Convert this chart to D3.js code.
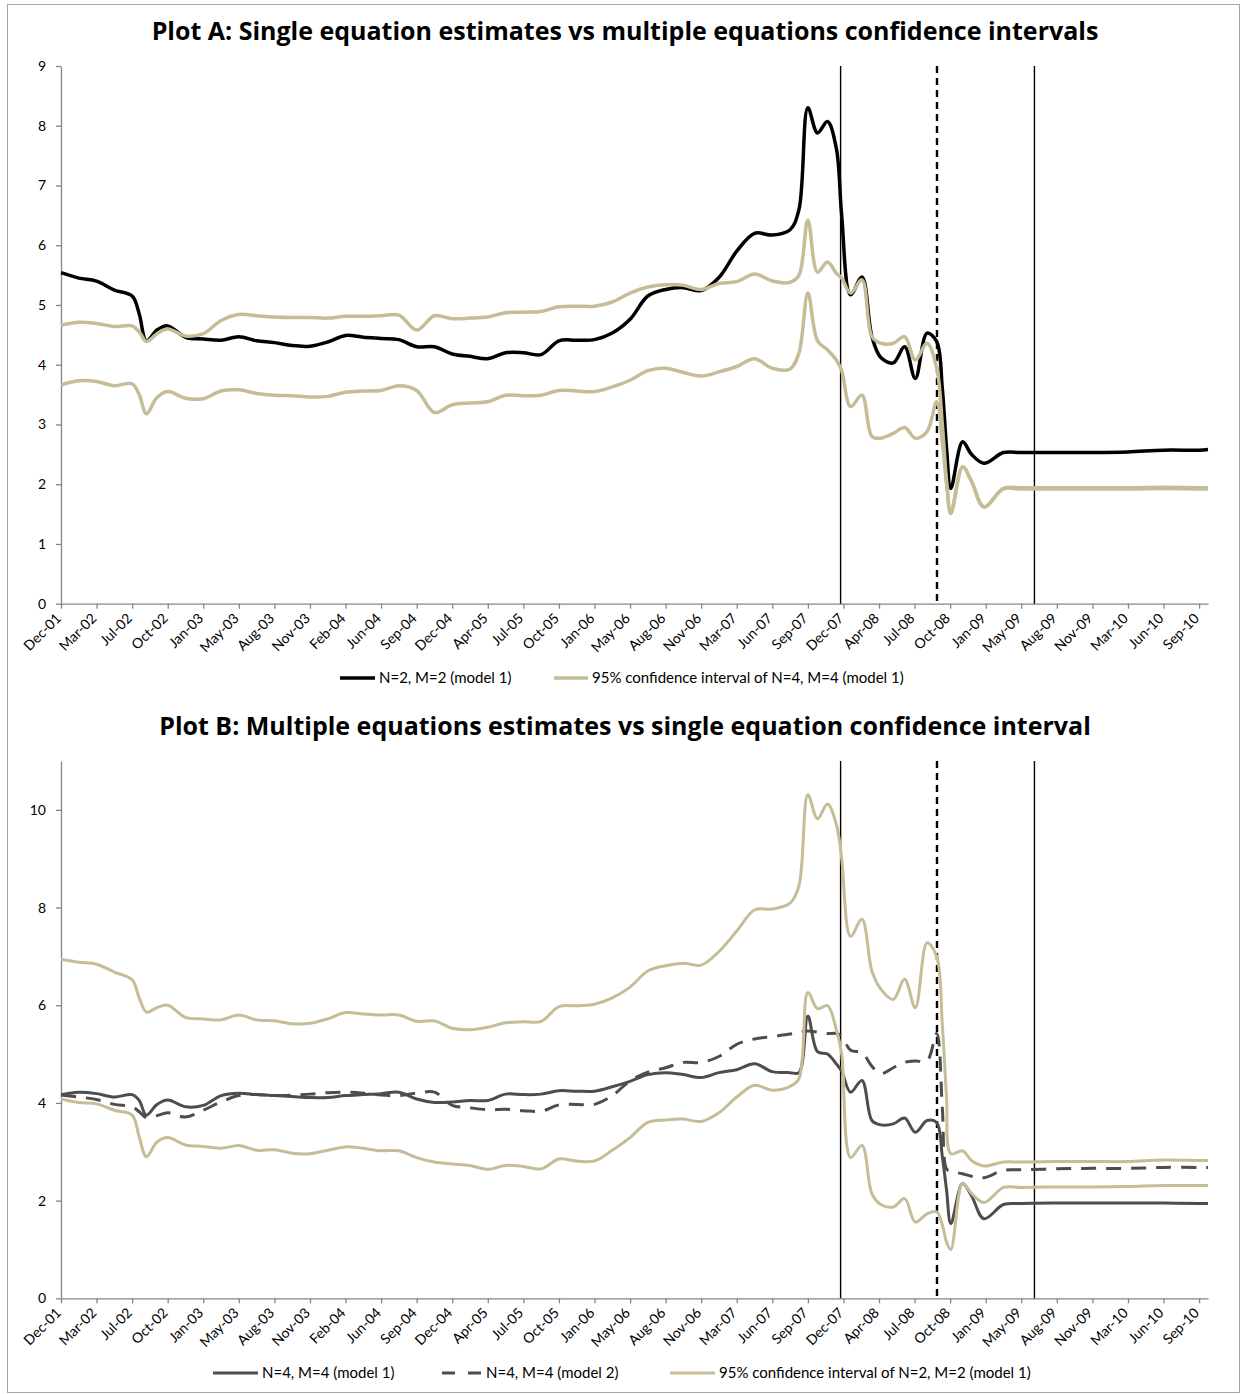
<!DOCTYPE html>
<html>
<head>
<meta charset="utf-8">
<script src="https://cdn.jsdelivr.net/npm/d3@7/dist/d3.min.js"></script>
<style>
    body { margin: 0; background: #fff; }
    text { font-family: Lato, "Open Sans", sans-serif; fill: #000; }
</style>
</head>
<body>
<svg id="chart" width="1241" height="1394"></svg>
<script>
// category labels on the x axis (one every tick)
const tickLabels = ["Dec-01","Mar-02","Jul-02","Oct-02","Jan-03","May-03","Aug-03","Nov-03","Feb-04","Jun-04",
    "Sep-04","Dec-04","Apr-05","Jul-05","Oct-05","Jan-06","May-06","Aug-06","Nov-06","Mar-07","Jun-07","Sep-07",
    "Dec-07","Apr-08","Jul-08","Oct-08","Jan-09","May-09","Aug-09","Nov-09","Mar-10","Jun-10","Sep-10"];

// observation points, in tick units (0 = Dec-01, 32 = Sep-10)
const periods = [0,0.5,1,1.5,2,2.2,2.4,2.7,3,3.5,4,4.5,5,5.5,6,6.5,7,7.5,8,8.5,9,9.5,10,10.5,11,11.5,12,12.5,13,13.5,
    14,14.5,15,15.5,16,16.5,17,17.5,18,18.5,19,19.5,20,20.5,
    20.75,21,21.27,21.55,21.8,21.95,22.2,22.52,22.8,23.05,23.4,23.72,24.02,24.35,24.62,24.78,24.9,25.02,25.35,25.6,25.95,26.5,
    27,28,29,30,31,32,32.25];

// Plot A
const estA = [5.54,5.45,5.40,5.25,5.15,4.85,4.40,4.58,4.65,4.46,4.43,4.41,4.47,4.40,4.37,4.32,4.31,4.38,4.49,4.46,
    4.44,4.42,4.30,4.30,4.18,4.14,4.10,4.20,4.20,4.17,4.40,4.41,4.42,4.53,4.76,5.15,5.26,5.29,5.24,5.46,5.90,6.20,6.17,6.26,
    6.60,8.30,7.88,8.07,7.62,6.50,5.17,5.47,4.47,4.12,4.03,4.30,3.77,4.53,4.39,3.60,2.60,1.93,2.71,2.50,2.35,2.53,
    2.53,2.53,2.53,2.54,2.57,2.57,2.58];
const ciA_hi = [4.66,4.71,4.69,4.64,4.65,4.55,4.39,4.52,4.60,4.48,4.52,4.74,4.84,4.82,4.80,4.79,4.79,4.78,4.81,4.81,
    4.82,4.83,4.58,4.82,4.77,4.78,4.80,4.87,4.88,4.89,4.97,4.98,4.98,5.05,5.20,5.30,5.34,5.33,5.26,5.36,5.39,5.52,5.40,5.38,
    5.50,6.42,5.55,5.72,5.53,5.45,5.20,5.42,4.47,4.36,4.36,4.47,4.08,4.36,3.95,3.00,2.05,1.51,2.29,2.05,1.62,1.93,
    1.94,1.94,1.94,1.94,1.95,1.94,1.94];
const ciA_lo = [3.66,3.73,3.72,3.65,3.68,3.50,3.18,3.45,3.55,3.44,3.43,3.56,3.58,3.52,3.49,3.48,3.46,3.47,3.54,3.56,
    3.57,3.65,3.57,3.20,3.33,3.36,3.38,3.49,3.48,3.49,3.57,3.56,3.55,3.63,3.74,3.90,3.94,3.87,3.81,3.88,3.97,4.10,3.94,3.93,
    4.20,5.20,4.40,4.25,4.08,3.90,3.30,3.49,2.80,2.77,2.85,2.95,2.77,2.88,3.38,2.70,2.00,1.51,2.29,2.05,1.62,1.92,
    1.92,1.92,1.92,1.92,1.93,1.92,1.92];

// Plot B
const estB1 = [4.17,4.22,4.19,4.12,4.17,4.05,3.75,3.97,4.06,3.92,3.95,4.15,4.20,4.17,4.15,4.13,4.11,4.11,4.15,4.17,
    4.19,4.22,4.08,4.01,4.02,4.05,4.05,4.18,4.17,4.18,4.25,4.24,4.24,4.33,4.44,4.58,4.62,4.58,4.52,4.62,4.68,4.80,4.64,4.62,
    4.62,5.78,5.05,5.00,4.80,4.65,4.22,4.46,3.64,3.55,3.57,3.69,3.40,3.64,3.60,2.90,2.21,1.53,2.35,2.10,1.63,1.92,
    1.94,1.95,1.95,1.95,1.95,1.94,1.94];
const estB2 = [4.16,4.12,4.07,3.97,3.92,3.82,3.70,3.74,3.80,3.71,3.85,4.02,4.15,4.17,4.15,4.16,4.18,4.21,4.22,4.20,
    4.16,4.15,4.20,4.22,3.95,3.90,3.86,3.87,3.84,3.83,3.96,3.97,3.97,4.15,4.45,4.63,4.72,4.83,4.83,4.95,5.20,5.31,5.36,5.41,
    5.44,5.47,5.45,5.42,5.42,5.36,5.08,5.03,4.75,4.60,4.72,4.83,4.86,4.86,5.42,3.90,2.65,2.60,2.55,2.50,2.47,2.62,
    2.63,2.65,2.66,2.66,2.68,2.68,2.68];
const ciB_hi = [6.94,6.88,6.84,6.68,6.52,6.15,5.86,5.95,6.00,5.75,5.72,5.70,5.80,5.70,5.68,5.62,5.63,5.72,5.85,5.82,
    5.80,5.80,5.67,5.68,5.53,5.50,5.55,5.64,5.66,5.67,5.97,5.99,6.02,6.15,6.37,6.70,6.81,6.86,6.82,7.10,7.52,7.95,7.97,8.09,
    8.45,10.31,9.82,10.12,9.70,9.00,7.41,7.76,6.70,6.33,6.12,6.53,5.95,7.28,7.00,5.60,4.10,2.96,3.02,2.82,2.71,2.79,
    2.79,2.80,2.80,2.80,2.83,2.82,2.82];
const ciB_lo = [4.08,4.01,3.98,3.85,3.75,3.30,2.90,3.20,3.29,3.14,3.11,3.07,3.13,3.03,3.04,2.97,2.96,3.03,3.10,3.07,
    3.02,3.02,2.88,2.79,2.75,2.72,2.64,2.72,2.70,2.65,2.85,2.81,2.81,3.03,3.29,3.60,3.65,3.67,3.62,3.80,4.12,4.36,4.26,4.34,
    4.50,6.26,5.93,5.99,5.50,5.00,2.88,3.13,2.14,1.92,1.87,2.04,1.56,1.73,1.77,1.50,1.15,1.00,2.35,2.15,1.96,2.27,
    2.27,2.28,2.28,2.29,2.31,2.31,2.31];

// event dates (recession start, Lehman, recession end)
const events = [21.92, 24.63, 27.37];

const tan = "#c4bd97", darkGrey = "#4d4d4d", axisGrey = "#868686";

d3.tsPanel = function () {

    let properties = {
        "top": 0,
        "bottom": 0,
        "left": 61,
        "right": 1208,
        "yMax": 9,
        "yTicks": null,
        "title": "",
        "titleY": 0,
        "series": [],
        "legend": [],
        "legendY": 0
    };
    let x, y;

    function chart(g) {
        x = d3.scaleLinear().domain([0, 32.25]).range([properties.left, properties.right]);
        y = d3.scaleLinear().domain([0, properties.yMax]).range([properties.bottom, properties.top]);

        g.append("text")
            .attr("x", 625)
            .attr("y", properties.titleY)
            .attr("text-anchor", "middle")
            .style("font-family", "'Open Sans'")
            .style("font-size", "25px")
            .style("font-weight", "bold")
            .text(properties.title);

        let yAxis = g.append("g")
            .attr("transform", "translate(" + properties.left + ",0)")
            .call(d3.axisLeft(y).tickValues(properties.yTicks).tickSize(5).tickSizeOuter(0).tickPadding(10));
        yAxis.selectAll("text").style("font-size", "14px").style("font-family", "Lato");

        let xAxis = g.append("g")
            .attr("transform", "translate(0," + properties.bottom + ")")
            .call(d3.axisBottom(x).tickValues(d3.range(tickLabels.length)).tickSize(5).tickSizeOuter(0)
                .tickFormat(i => tickLabels[i]));
        xAxis.selectAll("text")
            .attr("y", 0)
            .attr("dy", "0.35em")
            .attr("text-anchor", "end")
            .attr("transform", "translate(-3,12) rotate(-45)")
            .style("font-size", "14px")
            .style("font-family", "Lato");

        [yAxis, xAxis].forEach(a => {
            a.select(".domain").attr("stroke", axisGrey).attr("stroke-width", 1.3);
            a.selectAll(".tick line").attr("stroke", axisGrey).attr("stroke-width", 1.3);
        });

        // vertical event markers
        g.append("g").selectAll("line")
            .data(events)
            .enter().append("line")
            .attr("x1", d => x(d)).attr("x2", d => x(d))
            .attr("y1", properties.top).attr("y2", properties.bottom)
            .attr("stroke", "#000")
            .attr("stroke-width", (d, i) => i == 1 ? 2.4 : 1.4)
            .attr("stroke-dasharray", (d, i) => i == 1 ? "7,5" : null);

        let line = d3.line()
            .x((d, i) => x(periods[i]))
            .y(d => y(d))
            .curve(d3.curveCatmullRom.alpha(0.5));

        g.append("g").selectAll("path")
            .data(properties.series)
            .enter().append("path")
            .attr("d", d => line(d.values))
            .attr("fill", "none")
            .attr("stroke", d => d.color)
            .attr("stroke-width", d => d.width)
            .attr("stroke-dasharray", d => d.dash)
            .attr("stroke-linejoin", "round");

        //--------------- legend
        let leg = g.append("g").selectAll("g")
            .data(properties.legend)
            .enter().append("g")
            .attr("transform", d => "translate(" + d.x + "," + properties.legendY + ")");
        leg.append("line")
            .attr("x1", 0).attr("x2", d => d.len)
            .attr("stroke", d => d.color)
            .attr("stroke-width", d => d.width)
            .attr("stroke-dasharray", d => d.dash);
        leg.append("text")
            .attr("x", d => d.len + 4)
            .attr("dy", "0.35em")
            .style("font-size", "15px")
            .text(d => d.label);
    }

    chart.config = function (_) {
        if (!arguments.length) return properties;
        Object.assign(properties, _);
        return chart;
    };

    return chart;
};

const svg = d3.select("#chart");
svg.append("rect")
    .attr("x", 7.5).attr("y", 4.5)
    .attr("width", 1232).attr("height", 1388)
    .attr("fill", "#fff").attr("stroke", "#a6a6a6");

let plotA = d3.tsPanel().config({
    top: 66, bottom: 603.7, yMax: 9, yTicks: d3.range(0, 10),
    title: "Plot A: Single equation estimates vs multiple equations confidence intervals",
    titleY: 40,
    series: [
        {values: estA, color: "#000", width: 3.5, dash: null},
        {values: ciA_hi, color: tan, width: 3.5, dash: null},
        {values: ciA_lo, color: tan, width: 3.5, dash: null}
    ],
    legend: [
        {x: 340, len: 35, color: "#000", width: 3.5, dash: null, label: "N=2, M=2 (model 1)"},
        {x: 554, len: 34, color: tan, width: 3.5, dash: null, label: "95% confidence interval of N=4, M=4 (model 1)"}
    ],
    legendY: 678
});
svg.append("g").call(plotA);

let plotB = d3.tsPanel().config({
    top: 761, bottom: 1298.3, yMax: 11, yTicks: [0, 2, 4, 6, 8, 10],
    title: "Plot B: Multiple equations estimates vs single equation confidence interval",
    titleY: 735,
    series: [
        {values: estB1, color: darkGrey, width: 3, dash: null},
        {values: estB2, color: darkGrey, width: 3, dash: "15,10"},
        {values: ciB_hi, color: tan, width: 3, dash: null},
        {values: ciB_lo, color: tan, width: 3, dash: null}
    ],
    legend: [
        {x: 213, len: 45, color: darkGrey, width: 3, dash: null, label: "N=4, M=4 (model 1)"},
        {x: 442, len: 40, color: darkGrey, width: 3, dash: "13,13", label: "N=4, M=4 (model 2)"},
        {x: 670, len: 45, color: tan, width: 3, dash: null, label: "95% confidence interval of N=2, M=2 (model 1)"}
    ],
    legendY: 1373
});
svg.append("g").call(plotB);
</script>
</body>
</html>
